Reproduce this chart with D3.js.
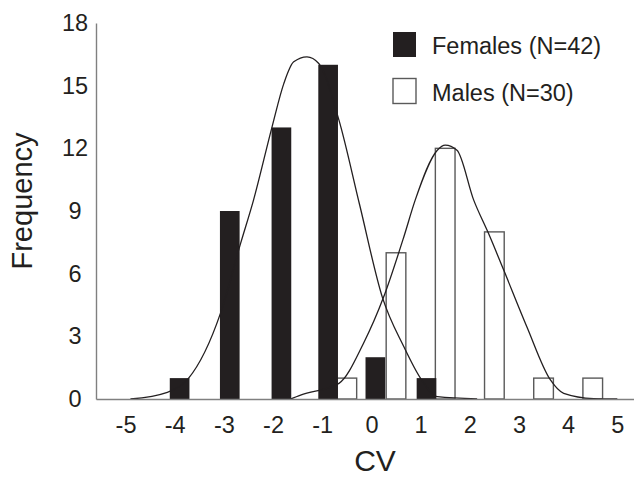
<!DOCTYPE html>
<html>
<head>
<meta charset="utf-8">
<script src="https://cdn.jsdelivr.net/npm/d3@7"></script>
<style>
  body { margin: 0; background: #fff; }
  text { font-family: Arial, "Liberation Sans", sans-serif; fill: #231f20; }
</style>
</head>
<body>
<div id="chart"></div>
<script>
// histogram bins (bar centre on the CV axis) and counts
var femaleCV = [-3.9, -2.88, -1.83, -0.88, 0.08, 1.12];
var femaleCount = [1, 9, 13, 16, 2, 1];
var maleCV = [-0.5, 0.5, 1.5, 2.5, 3.5, 4.5];
var maleCount = [1, 7, 12, 8, 1, 1];

// fitted curves, points
var femaleCurveX = [-4.9, -4.15, -3.72, -3.07, -2.66, -2.4, -2.02, -1.78, -1.58, -1.31, -1.07, -0.66, -0.24, 0.22, 0.66, 1.0, 1.34, 2.15];
var femaleCurveY = [0, 0.32, 0.99, 4.1, 7.45, 9.5, 13.03, 15.11, 16.14, 16.38, 16.06, 13.35, 9.3, 4.89, 2.5, 0.99, 0.11, 0];
var maleCurveX = [-1.65, -1.44, -0.66, -0.16, 0.25, 0.66, 0.89, 1.34, 1.5, 1.74, 2.08, 2.38, 2.69, 3.16, 3.64, 3.91, 4.52, 5.0];
var maleCurveY = [0, 0.19, 0.75, 2.67, 4.89, 7.77, 9.52, 11.91, 12.15, 11.91, 9.52, 7.93, 6.17, 3.46, 0.91, 0.27, 0.02, 0];

var xTicks = [-5, -4, -3, -2, -1, 0, 1, 2, 3, 4, 5];
var yTicks = [0, 3, 6, 9, 12, 15, 18];
var legendLabels = ["Females (N=42)", "Males (N=30)"];

var width = 634, height = 478;

var svg = d3.select("#chart").append("svg")
  .attr("width", width)
  .attr("height", height);

var x = d3.scaleLinear().domain([-5.6, 5.4]).range([96, 637]);
var y = d3.scaleLinear().domain([0, 18]).range([399, 23]);
var barW = x(0.4) - x(0);

// bars
svg.append("g").selectAll("rect")
  .data(maleCV)
  .enter().append("rect")
  .attr("x", function (d) { return x(d) - barW / 2; })
  .attr("y", function (d, i) { return y(maleCount[i]); })
  .attr("width", barW)
  .attr("height", function (d, i) { return y(0) - y(maleCount[i]); })
  .style("fill", "#fff")
  .style("stroke", "#5a5a5a")
  .style("stroke-width", 1.4);

svg.append("g").selectAll("rect")
  .data(femaleCV)
  .enter().append("rect")
  .attr("x", function (d) { return x(d) - barW / 2; })
  .attr("y", function (d, i) { return y(femaleCount[i]); })
  .attr("width", barW)
  .attr("height", function (d, i) { return y(0) - y(femaleCount[i]); })
  .style("fill", "#231f20");

// curves
var line = d3.line()
  .x(function (d) { return x(d[0]); })
  .y(function (d) { return y(d[1]); })
  .curve(d3.curveMonotoneX);

svg.append("path")
  .datum(d3.zip(femaleCurveX, femaleCurveY))
  .attr("d", line)
  .style("fill", "none")
  .style("stroke", "#231f20")
  .style("stroke-width", 1.3);

svg.append("path")
  .datum(d3.zip(maleCurveX, maleCurveY))
  .attr("d", line)
  .style("fill", "none")
  .style("stroke", "#231f20")
  .style("stroke-width", 1.3);

// axes (plain hyphen minus, like the original)
var xAxis = svg.append("g")
  .attr("transform", "translate(0," + y(0) + ")")
  .call(d3.axisBottom(x).tickValues(xTicks).tickSize(0).tickPadding(17)
    .tickFormat(function (d) { return String(d); }));
var yAxis = svg.append("g")
  .attr("transform", "translate(" + x(-5.6) + ",0)")
  .call(d3.axisLeft(y).tickValues(yTicks).tickSize(0));

[xAxis, yAxis].forEach(function (ax) {
  ax.select(".domain").style("stroke", "#808080").style("stroke-width", 1.4);
  ax.selectAll("text")
    .style("font-size", "23.5px")
    .style("font-family", "Arial, 'Liberation Sans', sans-serif")
    .style("fill", "#231f20");
});
// y labels sit centred in a column left of the axis
yAxis.selectAll("text").attr("text-anchor", "middle").attr("x", -21);

// axis titles
svg.append("text")
  .attr("x", 375)
  .attr("y", 471)
  .attr("text-anchor", "middle")
  .style("font-size", "30px")
  .text("CV");

svg.append("text")
  .attr("transform", "translate(32,201) rotate(-90)")
  .attr("text-anchor", "middle")
  .style("font-size", "29px")
  .text("Frequency");

// legend
var legend = svg.append("g").selectAll("g")
  .data(legendLabels)
  .enter().append("g")
  .attr("transform", function (d, i) { return "translate(393," + (32 + i * 46.5) + ")"; });

legend.append("rect")
  .attr("width", 23)
  .attr("height", 25)
  .style("fill", function (d, i) { return i == 0 ? "#231f20" : "#fff"; })
  .style("stroke", function (d, i) { return i == 0 ? "none" : "#5a5a5a"; })
  .style("stroke-width", 1.4);

legend.append("text")
  .attr("x", 39)
  .attr("y", 22)
  .style("font-size", "23.5px")
  .text(function (d) { return d; });
</script>
</body>
</html>
